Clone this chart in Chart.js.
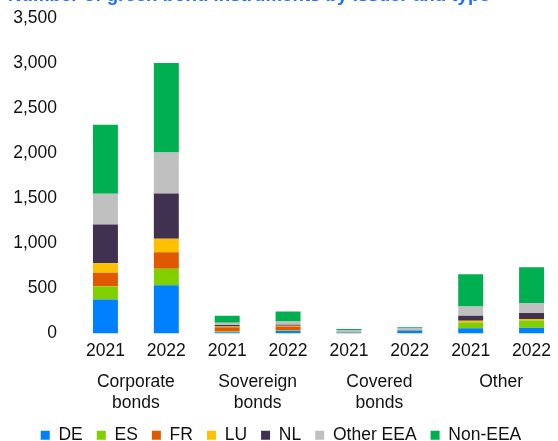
<!DOCTYPE html>
<html>
<head>
<meta charset="utf-8">
<script src="https://cdn.jsdelivr.net/npm/chart.js@4"></script>
<style>
  html, body { margin: 0; padding: 0; background: #fff; overflow: hidden; }
  #wrap { position: relative; width: 562px; height: 454px; }
  #title {
    position: absolute; left: 8px; top: -15px;
    font: bold 18.7px "Liberation Sans", Arial, sans-serif; line-height: 20px;
    color: #1f6fff; white-space: nowrap;
  }
</style>
</head>
<body>
<div id="wrap">
  <canvas id="myChart"></canvas>
  <div id="title">Number of green bond instruments by issuer and type</div>
</div>
<script>
const years = ['2021', '2022', '2021', '2022', '2021', '2022', '2021', '2022'];
const groups = [['Corporate', 'bonds'], ['Sovereign', 'bonds'], ['Covered', 'bonds'], ['Other']];
const yTicks = [0, 500, 1000, 1500, 2000, 2500, 3000, 3500];

// number of instruments per issuer country, one value per bar
const de       = [377, 535, 15, 28, 8, 30, 59, 63];
const es       = [147, 182, 8, 5, 3, 2, 62, 80];
const fr       = [149, 184, 45, 45, 2, 3, 4, 4];
const lu       = [106, 149, 10, 8, 1, 1, 16, 15];
const nl       = [429, 502, 15, 12, 2, 2, 55, 66];
const otherEEA = [341, 455, 25, 35, 22, 22, 103, 111];
const nonEEA   = [768, 993, 80, 112, 12, 10, 359, 395];

const font = { family: '"Liberation Sans", Arial, sans-serif', size: 17.5 };
const txt = '#111';

const ds = (label, data, color) => ({
    label: label,
    data: data,
    backgroundColor: color,
    borderWidth: 0,
    barPercentage: 0.41,
    categoryPercentage: 1
});

const ctx = document.getElementById('myChart');
const myChart = new Chart(ctx, {
    type: 'bar',
    data: {
        labels: years,
        datasets: [
            ds('DE', de, '#0080ff'),
            ds('ES', es, '#80d000'),
            ds('FR', fr, '#e05800'),
            ds('LU', lu, '#ffc000'),
            ds('NL', nl, '#403150'),
            ds('Other EEA', otherEEA, '#c0c0c0'),
            ds('Non-EEA', nonEEA, '#00b050')
        ]
    },
    options: {
        responsive: true,
        maintainAspectRatio: false,
        animation: false,
        layout: { padding: { top: 18, left: 0, right: 0, bottom: 0 } },
        plugins: {
            tooltip: { enabled: false },
            legend: {
                position: 'bottom',
                labels: { boxWidth: 9, boxHeight: 9, padding: 14, font: font, color: txt }
            }
        },
        scales: {
            x: {
                stacked: true,
                grid: { display: false, drawTicks: false },
                border: { display: false },
                ticks: { padding: 7.5, font: font, color: txt, maxRotation: 0, autoSkip: false }
            },
            x2: {
                type: 'category',
                position: 'bottom',
                labels: groups,
                offset: true,
                afterFit: (axis) => { axis.height -= 4; },
                grid: { display: false, drawTicks: false },
                border: { display: false },
                ticks: { padding: 2.5, font: font, color: txt, maxRotation: 0, autoSkip: false }
            },
            y: {
                stacked: true,
                min: 0,
                max: 3500,
                afterBuildTicks: (axis) => { axis.ticks = yTicks.map(v => ({ value: v })); },
                afterFit: (axis) => {
                    axis.width = 75;
                    axis.paddingTop = 0;
                    axis.paddingBottom = 0;
                },
                grid: { display: false, drawTicks: false },
                border: { display: false },
                ticks: {
                    padding: 18, font: font, color: txt,
                    callback: (v) => v.toLocaleString('en-US')
                }
            }
        }
    }
});
</script>
</body>
</html>
